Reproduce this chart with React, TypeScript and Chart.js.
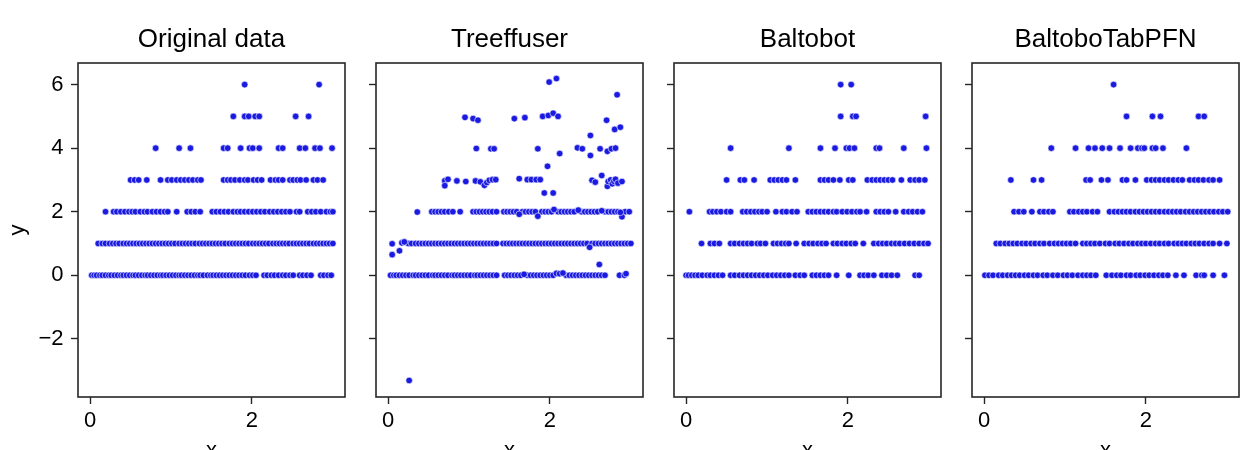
import React, { useEffect, useRef } from 'react';
import { Chart, registerables } from 'chart.js';

Chart.register(...registerables);

// ---------- text / ticks ----------
const panelTitles = ['Original data', 'Treeffuser', 'Baltobot', 'BaltoboTabPFN'];
const xTickValues = [0, 2];
const yTickValues = [-2, 0, 2, 4, 6];
const xAxisLabel = 'x';
const yAxisLabel = 'y';

// ---------- Original data: x values at each integer y level ----------
const orig0 = [0.02, 0.05, 0.08, 0.12, 0.15, 0.19, 0.23, 0.26, 0.30, 0.34, 0.38, 0.41, 0.45, 0.49, 0.53, 0.56, 0.60, 0.64, 0.68, 0.71, 0.75, 0.79, 0.83, 0.87, 0.90, 0.94, 0.98, 1.02, 1.06, 1.10, 1.13, 1.17, 1.21, 1.25, 1.29, 1.33, 1.36, 1.40, 1.45, 1.49, 1.52, 1.56, 1.60, 1.64, 1.68, 1.72, 1.76, 1.80, 1.84, 1.88, 1.92, 1.97, 2.01, 2.05, 2.15, 2.19, 2.24, 2.28, 2.33, 2.38, 2.42, 2.47, 2.51, 2.59, 2.63, 2.68, 2.73, 2.85, 2.89, 2.94, 2.98];
const orig1 = [0.10, 0.15, 0.19, 0.24, 0.28, 0.32, 0.36, 0.41, 0.45, 0.49, 0.53, 0.57, 0.61, 0.65, 0.69, 0.73, 0.77, 0.81, 0.85, 0.89, 0.93, 0.97, 1.01, 1.05, 1.10, 1.14, 1.18, 1.22, 1.26, 1.30, 1.35, 1.39, 1.43, 1.47, 1.51, 1.55, 1.59, 1.63, 1.67, 1.72, 1.76, 1.80, 1.84, 1.88, 1.92, 1.96, 2.01, 2.05, 2.09, 2.13, 2.17, 2.21, 2.26, 2.30, 2.34, 2.38, 2.42, 2.46, 2.51, 2.55, 2.59, 2.63, 2.67, 2.71, 2.76, 2.80, 2.84, 2.88, 2.92, 2.96, 3.00];
const orig2 = [0.19, 0.29, 0.33, 0.38, 0.43, 0.48, 0.52, 0.56, 0.62, 0.67, 0.71, 0.77, 0.82, 0.87, 0.92, 0.96, 1.07, 1.20, 1.25, 1.30, 1.36, 1.51, 1.56, 1.61, 1.66, 1.71, 1.77, 1.82, 1.86, 1.91, 1.96, 2.01, 2.06, 2.11, 2.16, 2.22, 2.27, 2.32, 2.37, 2.42, 2.47, 2.55, 2.59, 2.69, 2.74, 2.79, 2.85, 2.92, 2.97, 3.00];
const orig3 = [0.50, 0.55, 0.60, 0.70, 0.87, 0.96, 1.01, 1.07, 1.12, 1.17, 1.22, 1.27, 1.33, 1.37, 1.65, 1.70, 1.74, 1.79, 1.85, 1.91, 1.95, 2.02, 2.07, 2.12, 2.23, 2.29, 2.33, 2.38, 2.47, 2.51, 2.56, 2.60, 2.67, 2.76, 2.81, 2.88];
const orig4 = [0.81, 1.10, 1.24, 1.65, 1.70, 1.86, 1.97, 2.01, 2.09, 2.33, 2.38, 2.59, 2.66, 2.78, 2.84, 2.99];
const orig5 = [1.77, 1.91, 1.96, 2.04, 2.09, 2.54, 2.70];
const orig6 = [1.91, 2.83];

// ---------- Treeffuser ----------
const tree0 = [0.03, 0.07, 0.10, 0.14, 0.18, 0.22, 0.26, 0.31, 0.34, 0.38, 0.42, 0.46, 0.50, 0.55, 0.58, 0.62, 0.66, 0.70, 0.74, 0.79, 0.82, 0.86, 0.90, 0.94, 0.98, 1.02, 1.07, 1.10, 1.14, 1.18, 1.22, 1.26, 1.30, 1.34, 1.44, 1.48, 1.52, 1.56, 1.60, 1.64, 1.72, 1.76, 1.80, 1.84, 1.88, 1.92, 1.96, 2.00, 2.04, 2.20, 2.24, 2.28, 2.32, 2.36, 2.40, 2.44, 2.48, 2.52, 2.56, 2.60, 2.64, 2.68, 2.86, 2.92];
const tree1 = [0.25, 0.29, 0.34, 0.38, 0.42, 0.46, 0.50, 0.54, 0.58, 0.62, 0.66, 0.70, 0.74, 0.78, 0.82, 0.86, 0.90, 0.94, 0.98, 1.02, 1.06, 1.10, 1.14, 1.18, 1.22, 1.26, 1.30, 1.34, 1.42, 1.46, 1.50, 1.54, 1.58, 1.62, 1.66, 1.70, 1.74, 1.78, 1.82, 1.86, 1.90, 1.94, 1.98, 2.02, 2.06, 2.10, 2.14, 2.18, 2.22, 2.26, 2.30, 2.34, 2.38, 2.42, 2.46, 2.52, 2.56, 2.60, 2.64, 2.68, 2.72, 2.76, 2.80, 2.84, 2.88, 2.92, 2.96, 3.00];
const tree2 = [0.54, 0.58, 0.62, 0.66, 0.70, 0.75, 0.80, 0.89, 1.05, 1.09, 1.13, 1.17, 1.21, 1.25, 1.29, 1.34, 1.43, 1.47, 1.51, 1.55, 1.59, 1.66, 1.70, 1.74, 1.78, 1.82, 1.90, 1.94, 1.98, 2.02, 2.10, 2.14, 2.18, 2.22, 2.26, 2.30, 2.39, 2.43, 2.47, 2.51, 2.55, 2.59, 2.68, 2.72, 2.76, 2.80, 2.84, 2.93, 2.98];
const treeOtherX = [0.26, 0.05, 0.05, 0.14, 0.17, 0.20, 2.61, 2.49, 1.68, 2.08, 2.12, 2.16, 2.94,
  0.36, 1.85, 2.89, 2.87, 1.62, 2.35, 2.05, 2.64,
  0.70, 0.70, 0.74, 0.85, 0.96, 1.08, 1.14, 1.19, 1.22, 1.25, 1.29, 1.33, 1.62, 1.72, 1.77, 1.83, 1.88, 1.93, 2.04, 1.97, 2.52, 2.56, 2.64, 2.71, 2.72, 2.75, 2.77, 2.79, 2.81, 2.84, 2.89,
  1.09, 1.27, 1.31, 1.85, 2.12, 2.34, 2.40, 2.50, 2.50, 2.62, 2.71, 2.76, 2.81, 2.70, 2.80, 2.87, 2.83,
  0.95, 1.05, 1.11, 1.56, 1.69, 1.91, 1.98, 2.04, 2.10,
  1.99, 2.08];
const treeOtherY = [-3.31, 0.99, 0.65, 0.77, 1.02, 1.05, 0.34, 0.88, 0.03, 0.06, 0.05, 0.07, 0.05,
  1.99, 1.86, 1.84, 1.98, 1.92, 2.05, 2.07, 2.03,
  2.97, 2.82, 3.02, 2.97, 2.95, 2.97, 2.94, 2.83, 2.92, 2.99, 3.01, 3.01, 3.04, 3.01, 3.01, 3.01, 3.01, 2.59, 2.59, 3.43, 2.99, 2.93, 3.14, 2.80, 2.95, 3.00, 2.88, 2.96, 3.02, 2.90, 2.95,
  3.99, 3.98, 3.98, 3.98, 3.83, 4.01, 3.98, 3.77, 4.40, 3.98, 3.90, 3.98, 4.00, 4.88, 4.59, 4.66, 5.68,
  4.97, 4.93, 4.88, 4.93, 4.96, 5.00, 5.03, 5.10, 5.00,
  6.08, 6.19];

// ---------- Baltobot ----------
const balt0 = [0.00, 0.03, 0.07, 0.11, 0.15, 0.20, 0.26, 0.30, 0.35, 0.40, 0.45, 0.55, 0.60, 0.66, 0.71, 0.76, 0.81, 0.86, 0.91, 0.96, 1.01, 1.07, 1.12, 1.17, 1.22, 1.27, 1.35, 1.41, 1.46, 1.56, 1.61, 1.66, 1.71, 1.76, 1.86, 2.01, 2.15, 2.20, 2.25, 2.32, 2.42, 2.48, 2.54, 2.61, 2.83, 2.88];
const balt1 = [0.19, 0.30, 0.35, 0.41, 0.55, 0.60, 0.66, 0.71, 0.76, 0.81, 0.88, 0.92, 0.98, 1.08, 1.13, 1.18, 1.23, 1.27, 1.36, 1.46, 1.52, 1.57, 1.63, 1.68, 1.73, 1.82, 1.87, 1.93, 1.98, 2.04, 2.09, 2.19, 2.32, 2.38, 2.43, 2.48, 2.54, 2.59, 2.64, 2.70, 2.76, 2.82, 2.88, 2.94, 2.99];
const balt2 = [0.04, 0.29, 0.33, 0.38, 0.43, 0.50, 0.55, 0.70, 0.75, 0.80, 0.85, 0.90, 0.94, 1.00, 1.11, 1.19, 1.24, 1.31, 1.37, 1.51, 1.56, 1.61, 1.66, 1.71, 1.76, 1.82, 1.86, 1.93, 1.99, 2.05, 2.11, 2.15, 2.23, 2.35, 2.40, 2.45, 2.50, 2.59, 2.69, 2.75, 2.80, 2.86, 2.92];
const balt3 = [0.50, 0.67, 0.72, 0.84, 1.04, 1.09, 1.14, 1.19, 1.24, 1.35, 1.66, 1.71, 1.76, 1.82, 1.90, 2.01, 2.06, 2.24, 2.30, 2.35, 2.40, 2.45, 2.50, 2.55, 2.66, 2.77, 2.83, 2.88, 2.95];
const balt4 = [0.55, 1.27, 1.66, 1.84, 1.98, 2.02, 2.08, 2.35, 2.39, 2.69, 2.97];
const balt5 = [1.91, 2.06, 2.10, 2.96];
const balt6 = [1.91, 2.04];

// ---------- BaltoboTabPFN ----------
const tab0 = [0.01, 0.06, 0.11, 0.18, 0.23, 0.29, 0.34, 0.39, 0.44, 0.50, 0.55, 0.61, 0.66, 0.73, 0.78, 0.85, 0.91, 0.98, 1.03, 1.09, 1.16, 1.22, 1.27, 1.32, 1.38, 1.51, 1.58, 1.64, 1.69, 1.76, 1.81, 1.88, 1.93, 1.99, 2.04, 2.10, 2.16, 2.21, 2.27, 2.37, 2.47, 2.62, 2.69, 2.72, 2.83, 2.97];
const tab1 = [0.15, 0.20, 0.26, 0.31, 0.36, 0.41, 0.47, 0.52, 0.58, 0.63, 0.69, 0.74, 0.81, 0.87, 0.92, 0.97, 1.02, 1.07, 1.13, 1.22, 1.27, 1.32, 1.37, 1.43, 1.50, 1.55, 1.62, 1.67, 1.73, 1.79, 1.84, 1.90, 1.95, 2.00, 2.06, 2.12, 2.17, 2.23, 2.28, 2.35, 2.40, 2.45, 2.50, 2.56, 2.61, 2.66, 2.72, 2.78, 2.83, 2.91, 3.00];
const tab2 = [0.37, 0.43, 0.49, 0.59, 0.69, 0.74, 0.80, 0.85, 1.06, 1.11, 1.17, 1.22, 1.27, 1.34, 1.40, 1.55, 1.61, 1.66, 1.71, 1.76, 1.81, 1.87, 1.92, 1.97, 2.02, 2.07, 2.12, 2.17, 2.23, 2.28, 2.33, 2.38, 2.43, 2.49, 2.54, 2.59, 2.64, 2.69, 2.74, 2.79, 2.84, 2.90, 2.95, 3.01];
const tab3 = [0.33, 0.61, 0.71, 1.26, 1.31, 1.45, 1.53, 1.71, 1.76, 1.87, 2.01, 2.07, 2.12, 2.17, 2.23, 2.28, 2.34, 2.40, 2.45, 2.54, 2.60, 2.65, 2.71, 2.78, 2.83, 2.91];
const tab4 = [0.83, 1.13, 1.29, 1.37, 1.46, 1.55, 1.68, 1.81, 1.90, 1.95, 1.98, 2.08, 2.12, 2.21, 2.50];
const tab5 = [1.76, 2.08, 2.18, 2.65, 2.72];
const tab6 = [1.60];

// ---------- build point lists ----------
type Pt = { x: number; y: number };
const level = (xs: number[], y: number): Pt[] => xs.map((x) => ({ x, y }));
const paired = (xs: number[], ys: number[]): Pt[] => xs.map((x, i) => ({ x, y: ys[i] }));

const panelPoints: Pt[][] = [
  [...level(orig0, 0), ...level(orig1, 1), ...level(orig2, 2), ...level(orig3, 3), ...level(orig4, 4), ...level(orig5, 5), ...level(orig6, 6)],
  [...level(tree0, 0), ...level(tree1, 1), ...level(tree2, 2), ...paired(treeOtherX, treeOtherY)],
  [...level(balt0, 0), ...level(balt1, 1), ...level(balt2, 2), ...level(balt3, 3), ...level(balt4, 4), ...level(balt5, 5), ...level(balt6, 6)],
  [...level(tab0, 0), ...level(tab1, 1), ...level(tab2, 2), ...level(tab3, 3), ...level(tab4, 4), ...level(tab5, 5), ...level(tab6, 6)],
];

// ---------- layout / style ----------
const FONT = 'Liberation Sans, Arial, Helvetica, sans-serif';
const PLOT_LEFTS = [78, 376, 674, 972];
const PLOT_W = 267;
const LEFT_SPACE = 78;
const RIGHT_PAD = 10;
const CANVAS_H = 480;
const AXIS_COLOR = '#262626';
const DOT_COLOR = '#1a1ae0';

const framePlugin = {
  id: 'frameBox',
  afterDraw(chart: any) {
    const { ctx, chartArea } = chart;
    const { left, top, right, bottom } = chartArea;
    ctx.save();
    ctx.strokeStyle = AXIS_COLOR;
    ctx.lineWidth = 1.6;
    ctx.strokeRect(left, top, right - left, bottom - top);
    ctx.restore();
  },
};

function Panel({ index }: { index: number }) {
  const ref = useRef<HTMLCanvasElement | null>(null);
  useEffect(() => {
    if (!ref.current) return;
    const showY = index === 0;
    const chart = new Chart(ref.current, {
      type: 'scatter',
      data: {
        datasets: [
          {
            data: panelPoints[index],
            pointRadius: 3.3,
            pointBackgroundColor: DOT_COLOR,
            pointBorderColor: '#ffffff',
            pointBorderWidth: 0.6,
            pointHoverRadius: 3.3,
          },
        ],
      },
      options: {
        responsive: false,
        maintainAspectRatio: false,
        animation: false,
        layout: { padding: { left: 0, right: RIGHT_PAD, top: 0, bottom: 0 } },
        plugins: {
          legend: { display: false },
          tooltip: { enabled: false },
          title: {
            display: true,
            text: panelTitles[index],
            fullSize: false,
            color: '#000000',
            font: { family: FONT, size: 26, weight: 'normal' },
            padding: { top: 24, bottom: 7.8 },
          },
        },
        scales: {
          x: {
            type: 'linear',
            min: -0.15,
            max: 3.15,
            afterBuildTicks: (s: any) => {
              s.ticks = xTickValues.map((v) => ({ value: v }));
            },
            afterFit: (s: any) => {
              s.height = 83;
            },
            grid: {
              drawOnChartArea: false,
              drawTicks: true,
              tickLength: 7,
              tickColor: AXIS_COLOR,
              tickWidth: 1.4,
            },
            border: { display: false },
            ticks: {
              autoSkip: false,
              maxRotation: 0,
              padding: 4,
              color: '#000000',
              font: { family: FONT, size: 22 },
              callback: (v: any) => (Number(v) < 0 ? '\u2212' + Math.abs(Number(v)) : String(v)),
            },
            title: {
              display: true,
              text: xAxisLabel,
              color: '#000000',
              font: { family: FONT, size: 22 },
              padding: { top: 0, bottom: 16 },
            },
          },
          y: {
            type: 'linear',
            min: -3.83,
            max: 6.68,
            afterBuildTicks: (s: any) => {
              s.ticks = yTickValues.map((v) => ({ value: v }));
            },
            afterFit: (s: any) => {
              s.width = LEFT_SPACE;
            },
            grid: {
              drawOnChartArea: false,
              drawTicks: true,
              tickLength: 7,
              tickColor: AXIS_COLOR,
              tickWidth: 1.4,
            },
            border: { display: false },
            ticks: {
              autoSkip: false,
              padding: 7.5,
              color: '#000000',
              font: { family: FONT, size: 22 },
              callback: (v: any) =>
                showY ? (Number(v) < 0 ? '\u2212' + Math.abs(Number(v)) : String(v)) : '',
            },
            title: {
              display: showY,
              text: yAxisLabel,
              color: '#000000',
              font: { family: FONT, size: 22 },
              padding: { top: 4.6, bottom: 0 },
            },
          },
        },
      },
      plugins: [framePlugin],
    } as any);
    return () => chart.destroy();
  }, [index]);

  const w = LEFT_SPACE + PLOT_W + RIGHT_PAD;
  return (
    <canvas
      ref={ref}
      width={w}
      height={CANVAS_H}
      style={{
        position: 'absolute',
        left: PLOT_LEFTS[index] - LEFT_SPACE,
        top: 0,
        width: w,
        height: CANVAS_H,
      }}
    />
  );
}

export default function App() {
  return (
    <div
      style={{
        position: 'fixed',
        left: 0,
        top: 0,
        width: 1250,
        height: 450,
        overflow: 'hidden',
        background: '#ffffff',
      }}
    >
      {panelTitles.map((_, i) => (
        <Panel key={i} index={i} />
      ))}
    </div>
  );
}
